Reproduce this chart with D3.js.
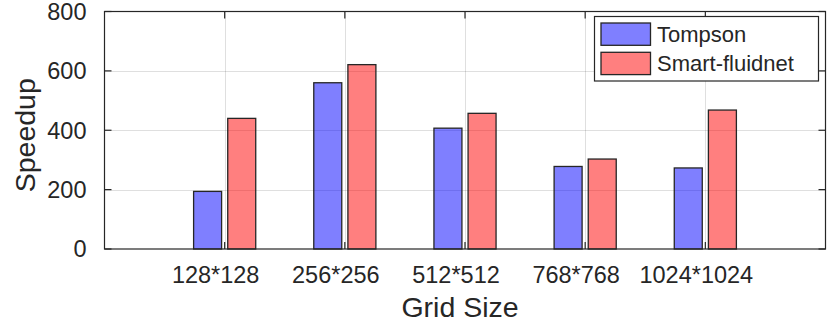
<!DOCTYPE html>
<html>
<head>
<meta charset="utf-8">
<script src="https://cdn.jsdelivr.net/npm/d3@7"></script>
<style>
  body { margin: 0; background: #fff; }
  text { font-family: "Liberation Sans", Arial, sans-serif; fill: #262626; }
</style>
</head>
<body>
<div id="chart"></div>
<script>
var categories = ["128*128", "256*256", "512*512", "768*768", "1024*1024"];
var seriesNames = ["Tompson", "Smart-fluidnet"];
var tompson = [194, 560, 407, 278, 273];
var smartFluidnet = [440, 621, 457, 303, 468];
var yTicks = [0, 200, 400, 600, 800];
var colors = ["#0000ff", "#ff0000"];

var W = 830, H = 330;
var margin = {top: 11.5, right: 4.5, bottom: 81, left: 104.5};

var svg = d3.select("#chart").append("svg")
  .attr("width", W)
  .attr("height", H);

// categories sit at 1..5, axis runs 0..6 like matlab
var x = d3.scaleLinear().domain([0, categories.length + 1])
  .range([margin.left, W - margin.right]);
var y = d3.scaleLinear().domain([0, 800])
  .range([H - margin.bottom, margin.top]);

var x0 = x.range()[0], x1 = x.range()[1],
    y0 = y.range()[0], y1 = y.range()[1];

// grid
var grid = svg.append("g").attr("class", "grid")
  .attr("stroke", "#262626").attr("stroke-opacity", 0.15).attr("stroke-width", 1);
grid.selectAll("line.h").data(yTicks.slice(1, -1)).enter().append("line")
  .attr("x1", x0).attr("x2", x1)
  .attr("y1", function(d) { return Math.round(y(d)) + 0.5; })
  .attr("y2", function(d) { return Math.round(y(d)) + 0.5; });
grid.selectAll("line.v").data(categories).enter().append("line")
  .attr("y1", y0).attr("y2", y1)
  .attr("x1", function(d, i) { return Math.round(x(i + 1)) + 0.5; })
  .attr("x2", function(d, i) { return Math.round(x(i + 1)) + 0.5; });

// bars
var barW = 0.233, offset = 0.142;
var series = [tompson, smartFluidnet];
series.forEach(function(vals, s) {
  svg.append("g").selectAll("rect").data(vals).enter().append("rect")
    .attr("x", function(d, i) { return x(i + 1 + (s === 0 ? -offset : offset) - barW / 2); })
    .attr("width", x(barW) - x(0))
    .attr("y", function(d) { return y(d); })
    .attr("height", function(d) { return y(0) - y(d); })
    .attr("fill", colors[s]).attr("fill-opacity", 0.5)
    .attr("stroke", "#262626").attr("stroke-width", 1.3);
});

// box + ticks
var axisG = svg.append("g").attr("stroke", "#262626").attr("stroke-width", 1.2).attr("fill", "none");
axisG.append("rect").attr("x", x0).attr("y", y1).attr("width", x1 - x0).attr("height", y0 - y1);
var tl = 7;
yTicks.forEach(function(t) {
  var yy = y(t);
  axisG.append("line").attr("x1", x0).attr("x2", x0 + tl).attr("y1", yy).attr("y2", yy);
  axisG.append("line").attr("x1", x1).attr("x2", x1 - tl).attr("y1", yy).attr("y2", yy);
});
categories.forEach(function(c, i) {
  var xx = x(i + 1);
  axisG.append("line").attr("x1", xx).attr("x2", xx).attr("y1", y0).attr("y2", y0 - tl);
  axisG.append("line").attr("x1", xx).attr("x2", xx).attr("y1", y1).attr("y2", y1 + tl);
});

// tick labels
svg.append("g").selectAll("text").data(yTicks).enter().append("text")
  .attr("x", x0 - 18).attr("y", function(d) { return y(d); })
  .attr("dy", "0.36em")
  .attr("text-anchor", "end")
  .style("font-size", "23.5px")
  .text(function(d) { return d; });

svg.append("g").selectAll("text").data(categories).enter().append("text")
  .attr("x", function(d, i) { return x(i + 1) - 9; })
  .attr("y", 283)
  .attr("text-anchor", "middle")
  .style("font-size", "23.5px")
  .text(function(d) { return d; });

// axis titles
svg.append("text")
  .attr("x", (x0 + x1) / 2 - 5).attr("y", 317)
  .attr("text-anchor", "middle")
  .style("font-size", "28.5px")
  .text("Grid Size");
svg.append("text")
  .attr("transform", "translate(35," + ((y0 + y1) / 2 + 5) + ") rotate(-90)")
  .attr("text-anchor", "middle")
  .style("font-size", "28.5px")
  .text("Speedup");

// legend
var lg = svg.append("g");
lg.append("rect").attr("x", 594.5).attr("y", 16.5).attr("width", 224).attr("height", 64.5)
  .attr("fill", "#fff").attr("stroke", "#262626").attr("stroke-width", 1.2);
seriesNames.forEach(function(n, s) {
  var yy = 23 + s * 29.3;
  lg.append("rect").attr("x", 601).attr("y", yy).attr("width", 49.5).attr("height", 22.3)
    .attr("fill", colors[s]).attr("fill-opacity", 0.5)
    .attr("stroke", "#262626").attr("stroke-width", 1.3);
  lg.append("text").attr("x", 657).attr("y", yy + 11).attr("dy", "0.36em")
    .style("font-size", "22px").text(n);
});
</script>
</body>
</html>
